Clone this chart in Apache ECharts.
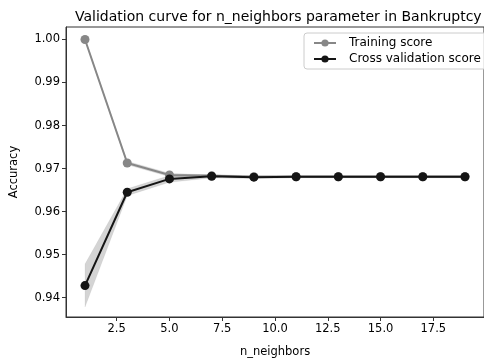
<!DOCTYPE html>
<html><head><meta charset="utf-8">
<script src="https://cdn.jsdelivr.net/npm/echarts@6/dist/echarts.min.js"></script>
<style>html,body{margin:0;padding:0;background:#fff}#c{width:484px;height:363px}</style>
</head><body><div id="c"></div>
<script>
var titleText = 'Validation curve for n_neighbors parameter in Bankruptcy';
var nNeighbors = [1, 3, 5, 7, 9, 11, 13, 15, 17, 19];
var trainMean = [1.0000, 0.9713, 0.9685, 0.9683, 0.9681, 0.9681, 0.9681, 0.9681, 0.9681, 0.9681];
var trainStd  = [0.0001, 0.0004, 0.0004, 0.0002, 0.0002, 0.0002, 0.0002, 0.0002, 0.0002, 0.0002];
var cvMean    = [0.9428, 0.9645, 0.9676, 0.9682, 0.9680, 0.9681, 0.9681, 0.9681, 0.9681, 0.9681];
var cvStd     = [0.0050, 0.0008, 0.0008, 0.0004, 0.0003, 0.0003, 0.0003, 0.0003, 0.0003, 0.0003];
var xTicks = [2.5, 5.0, 7.5, 10.0, 12.5, 15.0, 17.5];
var yTicks = [0.94, 0.95, 0.96, 0.97, 0.98, 0.99, 1.00];

function pts(mean){ return nNeighbors.map(function(x,i){ return [x, mean[i]]; }); }
// band segments: [x0, lo0, hi0, x1, lo1, hi1]
function bandSegs(mean, sd){
  var out = [];
  for (var i = 0; i < nNeighbors.length - 1; i++) {
    out.push([nNeighbors[i], mean[i]-sd[i], mean[i]+sd[i], nNeighbors[i+1], mean[i+1]-sd[i+1], mean[i+1]+sd[i+1]]);
  }
  return out;
}
function bandRender(color){
  return function(params, api){
    var a = api.coord([api.value(0), api.value(1)]);
    var b = api.coord([api.value(0), api.value(2)]);
    var c = api.coord([api.value(3), api.value(5)]);
    var d = api.coord([api.value(3), api.value(4)]);
    return { type: 'polygon', shape: { points: [a, b, c, d] }, style: { fill: color, stroke: color, lineWidth: 0.3 } };
  };
}

var font = 'DejaVu Sans';
var chart = echarts.init(document.getElementById('c'), null, {renderer:'canvas'});
chart.setOption({
  animation: false,
  title: { text: titleText, left: 70, top: 5, textStyle: { fontFamily: font, fontSize: 14, fontWeight: 'normal', color: '#000' } },
  grid: { left: 66, top: 27, width: 427, height: 298, show: true, borderColor: '#333', borderWidth: 1, backgroundColor: 'transparent' },
  legend: {
    data: ['Training score', 'Cross validation score'],
    orient: 'vertical', left: 304, top: 33,
    itemWidth: 22, itemHeight: 9, itemGap: 4,
    padding: [4, 40, 4, 9],
    borderColor: '#ccc', borderWidth: 1, borderRadius: 3, backgroundColor: 'rgba(255,255,255,0.8)',
    textStyle: { fontFamily: font, fontSize: 12, color: '#000', padding: [0, 0, 0, 8] }
  },
  xAxis: {
    type: 'value', min: 0.1, max: 19.9,
    name: 'n_neighbors', nameLocation: 'middle', nameGap: 29,
    nameTextStyle: { fontFamily: font, fontSize: 11.5, color: '#000' },
    axisLine: { show: true, lineStyle: { color: '#333', width: 1 } },
    axisTick: { show: true, length: 4, customValues: xTicks, lineStyle: { color: '#333' } },
    axisLabel: { customValues: xTicks, fontFamily: font, fontSize: 11.5, color: '#000', margin: 6, formatter: function(v){ return v.toFixed(1); } },
    splitLine: { show: false }
  },
  yAxis: {
    type: 'value', min: 0.9355, max: 1.0029,
    name: 'Accuracy', nameLocation: 'middle', nameGap: 46,
    nameTextStyle: { fontFamily: font, fontSize: 11.5, color: '#000' },
    axisLine: { show: true, lineStyle: { color: '#333', width: 1 } },
    axisTick: { show: true, length: 4, customValues: yTicks, lineStyle: { color: '#333' } },
    axisLabel: { customValues: yTicks, fontFamily: font, fontSize: 11.5, color: '#000', margin: 6, formatter: function(v){ return v.toFixed(2); } },
    splitLine: { show: false }
  },
  series: [
    { name: 'trainBand', type: 'custom', data: bandSegs(trainMean, trainStd), renderItem: bandRender('rgba(128,128,128,0.3)'), silent: true, z: 1,
      encode: { x: [0, 3], y: [1, 2, 4, 5] } },
    { name: 'cvBand', type: 'custom', data: bandSegs(cvMean, cvStd), renderItem: bandRender('rgba(0,0,0,0.17)'), silent: true, z: 1,
      encode: { x: [0, 3], y: [1, 2, 4, 5] } },
    { name: 'Training score', type: 'line', data: pts(trainMean), symbol: 'circle', symbolSize: 9,
      itemStyle: { color: '#878787' }, lineStyle: { color: '#878787', width: 2 }, z: 3 },
    { name: 'Cross validation score', type: 'line', data: pts(cvMean), symbol: 'circle', symbolSize: 9,
      itemStyle: { color: '#151515' }, lineStyle: { color: '#151515', width: 2 }, z: 4 }
  ]
});
</script></body></html>
